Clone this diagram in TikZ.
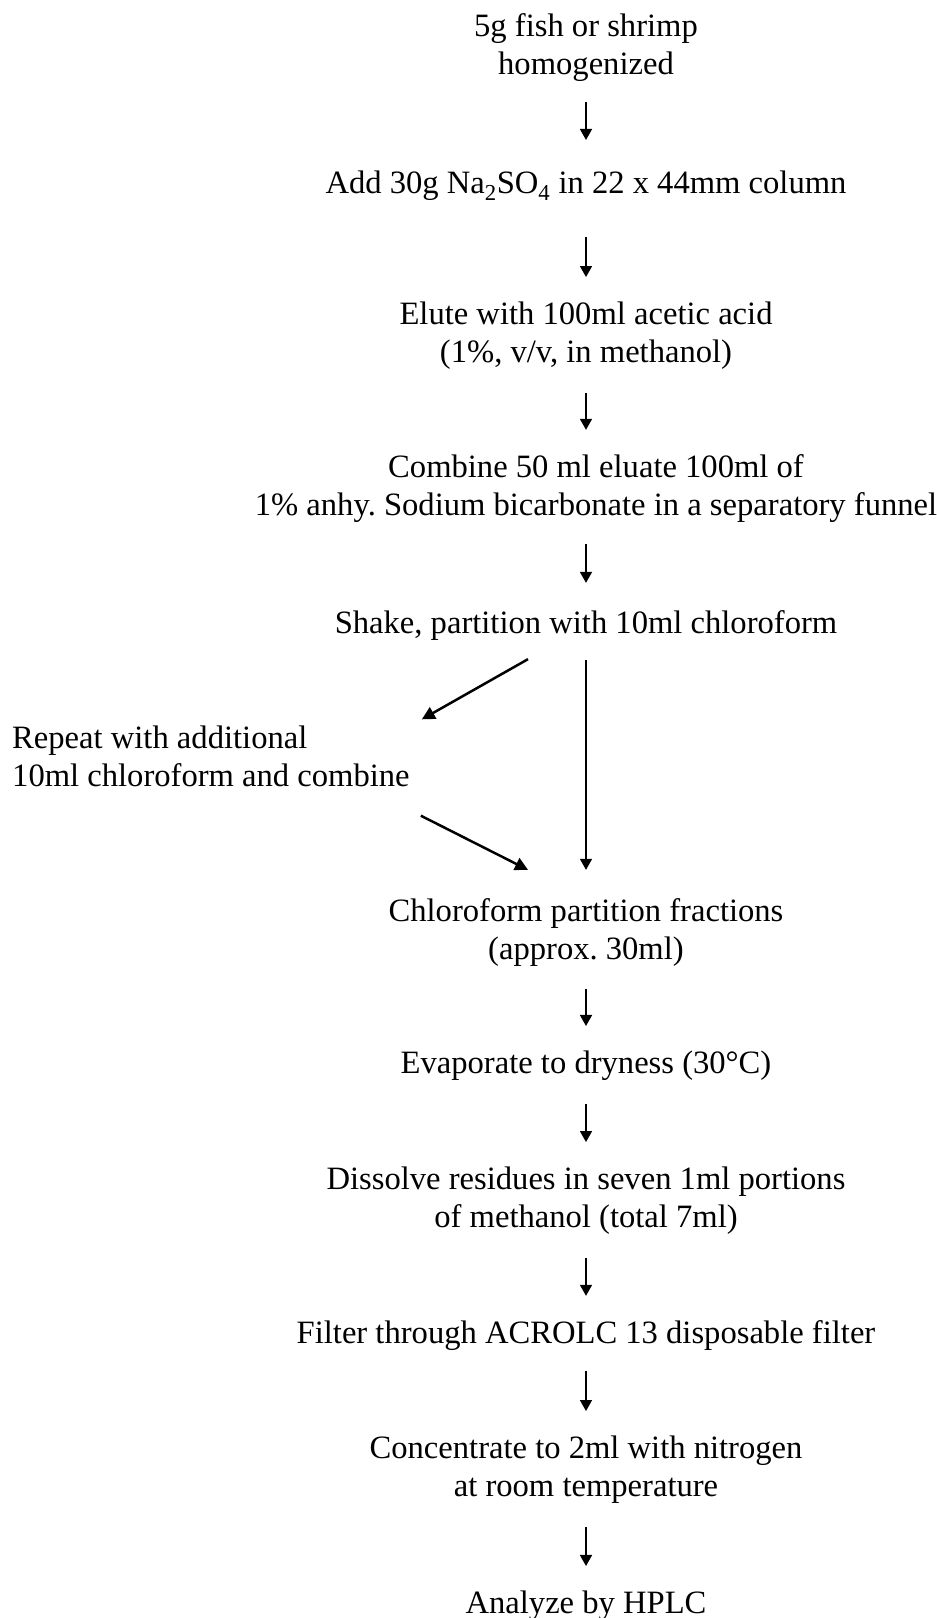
\documentclass[tikz,border=0pt]{standalone}
\usepackage{fontspec}
\setmainfont{Liberation Serif}
\usetikzlibrary{arrows.meta, positioning}

\begin{document}
\frenchspacing
\begin{tikzpicture}[
  x=1pt, y=-1pt,
  stepnode/.style={inner sep=0pt, align=center, font=\fontsize{32.6}{38}\selectfont},
  arr/.style={-{Triangle[length=11pt, width=12pt]}, line width=1.6pt,
              shorten <=23pt, shorten >=25pt},
  arrd/.style={-{Triangle[length=13pt, width=13pt]}, line width=2.5pt},
]
  \useasboundingbox (0,0) rectangle (937,1618);
  \node[stepnode] (fish) at (586,48) {5g fish or shrimp\\homogenized};
  \node[stepnode] (add) at (586,186) {Add 30g Na\textsubscript{2}SO\textsubscript{4} in 22 x 44mm column};
  \node[stepnode] (elute) at (586,336) {Elute with 100ml acetic acid\\(1\%, v/v, in methanol)};
  \node[stepnode] (combine) at (596,489) {Combine 50 ml eluate 100ml of\\1\% anhy. Sodium bicarbonate in a separatory funnel};
  \node[stepnode] (shake) at (586,625) {Shake, partition with 10ml chloroform};
  \node[stepnode, align=left, anchor=west] (repeat) at (12,756) {Repeat with additional\\10ml chloroform and combine};
  \node[stepnode] (chloro) at (586,932) {Chloroform partition fractions\\(approx. 30ml)};
  \node[stepnode] (evap) at (586,1066) {Evaporate to dryness (30°C)};
  \node[stepnode] (dissolve) at (586,1201) {Dissolve residues in seven 1ml portions\\of methanol (total 7ml)};
  \node[stepnode] (filter) at (586,1336) {Filter through ACROLC 13 disposable filter};
  \node[stepnode] (conc) at (586,1470) {Concentrate to 2ml with nitrogen\\at room temperature};
  \node[stepnode] (hplc) at (586,1606) {Analyze by HPLC};

  \draw[arr, shorten <=20pt, shorten >=31pt] (fish) -- (add);
  \draw[arr, shorten <=36pt, shorten >=25pt] (add) -- (elute);
  \draw[arr] (elute) -- (elute |- combine.north);
  \draw[arr, shorten <=21pt, shorten >=27pt] (combine.south -| shake) -- (shake);
  \draw[arr, line width=1.3pt, shorten <=20pt, shorten >=28pt] (shake) -- (chloro);
  \draw[arrd] ([shift={(-58,19)}]shake.south) -- ([shift={(12,-6)}]repeat.north east);
  \draw[arrd] ([shift={(11,29)}]repeat.south east) -- ([shift={(-58,-28)}]chloro.north);
  \draw[arr] (chloro) -- (evap);
  \draw[arr] (evap) -- (dissolve);
  \draw[arr] (dissolve) -- (filter);
  \draw[arr, shorten <=20pt] (filter) -- (conc);
  \draw[arr] (conc) -- (hplc);
\end{tikzpicture}
\end{document}
